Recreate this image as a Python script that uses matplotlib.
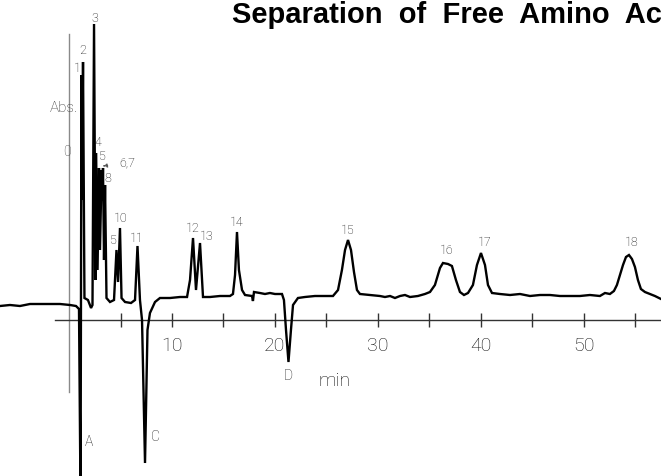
import matplotlib
matplotlib.use("Agg")
import matplotlib.pyplot as plt

# ---- data (time in min, signal in arbitrary absorbance units) ----
time_min = [-6.70, -5.73, -4.76, -3.79, -2.33, -0.87, 0.10, 0.68, 0.97,
            1.12, 1.21, 1.26, 1.36, 1.50, 1.84, 2.14, 2.28, 2.43, 2.57, 2.62,
            2.77, 2.91, 3.01, 3.16, 3.25, 3.30, 3.40, 3.50, 3.64, 3.98, 4.37,
            4.61, 4.76, 4.95, 5.10, 5.44, 6.02, 6.41, 6.65, 6.89, 7.09, 7.38,
            7.62, 7.86, 8.35, 8.83, 9.81, 10.78, 11.46, 11.75, 12.04, 12.33,
            12.72, 13.01, 13.69, 14.66, 15.63, 15.92, 16.12, 16.31, 16.50,
            16.80, 17.09, 17.77, 17.86, 17.96, 18.54, 19.03, 19.51, 20.00,
            20.68, 20.87, 21.07, 21.31, 21.55, 21.75, 22.23, 22.91, 23.88,
            24.85, 25.63, 26.12, 26.50, 26.80, 27.09, 27.38, 27.67, 27.96,
            28.25, 29.22, 30.19, 30.68, 31.17, 31.65, 32.14, 32.62, 33.11,
            33.88, 34.56, 35.05, 35.53, 36.02, 36.31, 36.80, 37.18, 37.57,
            37.96, 38.35, 38.74, 39.22, 39.61, 40.00, 40.39, 40.68, 41.07,
            41.84, 42.82, 43.79, 44.76, 45.73, 46.70, 47.67, 48.64, 49.61,
            50.58, 51.55, 52.04, 52.52, 52.91, 53.20, 53.50, 53.79, 54.08,
            54.37, 54.66, 54.95, 55.24, 55.53, 55.92, 56.41, 56.89, 57.48]
signal = [0.14, 0.15, 0.14, 0.16, 0.16, 0.16, 0.15, 0.14, 0.11,
          -1.80, 2.45, 1.20, 2.58, 0.22, 0.20, 0.12, 0.15, 2.96, 0.40, 1.67,
          0.50, 1.52, 0.70, 1.50, 1.20, 1.52, 0.60, 1.35, 0.22, 0.18, 0.20,
          0.70, 0.38, 0.92, 0.22, 0.18, 0.17, 0.20, 0.74, 0.20, 0.00, -1.43,
          -0.10, 0.07, 0.18, 0.22, 0.22, 0.23, 0.23, 0.40, 0.82, 0.30,
          0.77, 0.23, 0.23, 0.24, 0.24, 0.26, 0.45, 0.88, 0.50,
          0.30, 0.25, 0.24, 0.19, 0.28, 0.27, 0.26, 0.27, 0.26,
          0.26, 0.20, -0.10, -0.42, -0.10, 0.15, 0.22, 0.23, 0.24,
          0.24, 0.24, 0.30, 0.50, 0.70, 0.80, 0.70, 0.48, 0.30,
          0.26, 0.25, 0.24, 0.23, 0.24, 0.22, 0.24, 0.25, 0.23,
          0.24, 0.26, 0.28, 0.35, 0.52, 0.57, 0.56, 0.54, 0.40,
          0.28, 0.25, 0.27, 0.35, 0.55, 0.67, 0.55, 0.35, 0.27,
          0.26, 0.25, 0.26, 0.24, 0.25, 0.25, 0.24, 0.24, 0.24,
          0.25, 0.24, 0.27, 0.26, 0.29, 0.35, 0.45, 0.55, 0.63,
          0.65, 0.61, 0.53, 0.40, 0.31, 0.28, 0.26, 0.24, 0.21]

tick_minutes = [5, 10, 15, 20, 25, 30, 35, 40, 45, 50, 55]
tick_labels = ["10", "20", "30", "40", "50"]
tick_label_minutes = [10, 20, 30, 40, 50]

peak_labels = ["1", "2", "3", "4", "5", "8", "5", "10", "11", "12", "13", "14", "15", "16", "17", "18"]
peak_label_t = [0.78, 1.36, 2.52, 2.82, 3.20, 3.79, 4.27, 5.05, 6.60, 12.04, 13.40, 16.31, 27.09, 36.70, 40.39, 54.66]
peak_label_y = [2.52, 2.70, 3.02, 1.77, 1.63, 1.42, 0.80, 1.01, 0.82, 0.92, 0.83, 0.98, 0.90, 0.70, 0.77, 0.77]

neg_labels = ["A", "C", "D"]
neg_label_t = [1.94, 8.35, 21.26]
neg_label_y = [-1.22, -1.17, -0.56]

title = "Separation  of  Free  Amino  Acids"

# ---- figure ----
W, H = 661, 476
fig = plt.figure(figsize=(W / 100, H / 100), dpi=100)
ax = fig.add_axes([0, 0, 1, 1])
ax.set_xlim(-6.70, 57.48)
ax.set_ylim(-1.56, 3.20)
ax.axis("off")

thin = dict(family=["Roboto", "DejaVu Sans"], weight="light")
ink = "#111111"

# vertical zero line (Abs axis)
ax.plot([0, 0], [-0.72, 2.86], color="#8a8a8a", lw=1.0, zorder=1)
# time axis
ax.plot([-1.36, 57.48], [0, 0], color="#333333", lw=1.0, zorder=1)
ax.vlines(tick_minutes, -0.07, 0.07, color="#333333", lw=1.0, zorder=1)

# trace
ax.plot(time_min, signal, color="black", lw=1.7, solid_joinstyle="miter", zorder=3)

for t, lab in zip(tick_label_minutes, tick_labels):
    ax.text(t, -0.26, lab, ha="center", va="center", fontsize=14, color=ink, **thin)
ax.text(25.8, -0.61, "min", ha="center", va="center", fontsize=14, color=ink, **thin)

for lab, t, y in zip(peak_labels, peak_label_t, peak_label_y):
    ax.text(t, y, lab, ha="center", va="center", fontsize=9, color=ink, **thin)
ax.annotate("6,7", xy=(3.30, 1.54), xytext=(5.63, 1.57), ha="center", va="center",
            fontsize=9, color=ink,
            arrowprops=dict(arrowstyle="-|>", ls=":", color="#555555", lw=0.8,
                            mutation_scale=6, shrinkA=9, shrinkB=0),
            **thin)
for lab, t, y in zip(neg_labels, neg_label_t, neg_label_y):
    ax.text(t, y, lab, ha="center", va="center", fontsize=10, color=ink, **thin)

ax.text(-0.19, 1.68, "0", ha="center", va="center", fontsize=10, color="#444444", **thin)
ax.text(-0.49, 2.12, "Abs.", ha="center", va="center", fontsize=11, color="#333333", **thin)

fig.text(232 / W, 1 - 1 / H, title, ha="left", va="top",
         fontsize=21, fontweight="bold", family=["Liberation Sans", "DejaVu Sans"], color="black")

fig.savefig("out.png", dpi=100)
